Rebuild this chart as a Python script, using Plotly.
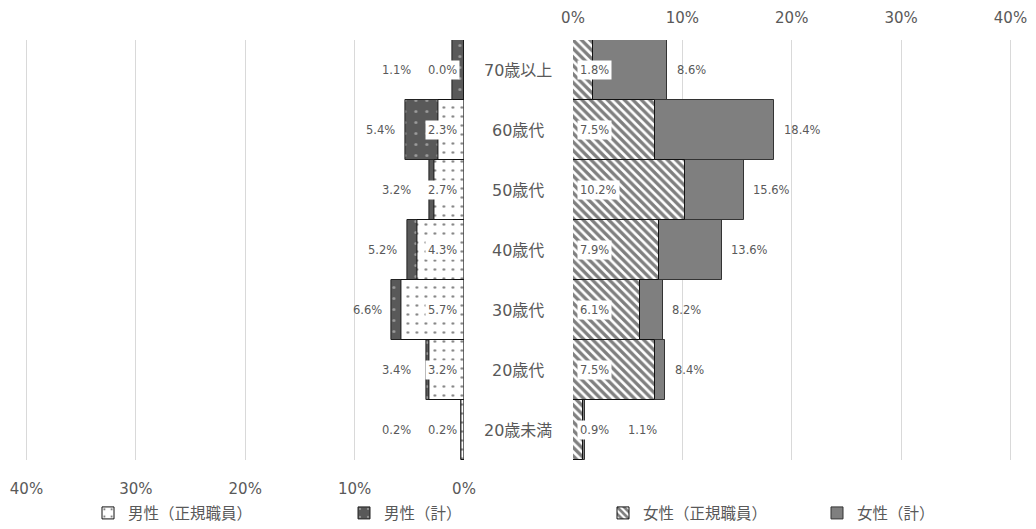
import plotly.graph_objects as go

# Age groups, bottom to top
ages = ["20歳未満", "20歳代", "30歳代", "40歳代", "50歳代", "60歳代", "70歳以上"]

# Shares (%) by sex and employment type
male_regular = [0.2, 3.2, 5.7, 4.3, 2.7, 2.3, 0.0]
male_total = [0.2, 3.4, 6.6, 5.2, 3.2, 5.4, 1.1]
female_regular = [0.9, 7.5, 6.1, 7.9, 10.2, 7.5, 1.8]
female_total = [1.1, 8.4, 8.2, 13.6, 15.6, 18.4, 8.6]

axis_ticks = [0, 10, 20, 30, 40]
tick_text = [f"{t}%" for t in axis_ticks]

W, H = 1036, 529
TEXT = "#595959"
FONT = "DejaVu Sans, Noto Sans CJK JP, sans-serif"
CJK_FONT = "Noto Sans CJK JP, DejaVu Sans, sans-serif"

# Panel geometry (pixels): 0% .. 40% for each side, with a tiny overshoot so
# the outer 40% gridline is still drawn
LEFT_ZERO, RIGHT_ZERO, SPAN = 464, 573, 437.5
XMAX = 40.1
ext = SPAN * XMAX / 40

fig = go.Figure()

# Men: total behind, regular staff on top (left panel)
fig.add_trace(go.Bar(
    y=ages, x=male_total, orientation="h", name="男性（計）",
    xaxis="x", yaxis="y", legend="legend2",
    marker=dict(color="#595959", line=dict(color="#222222", width=1),
                pattern=dict(shape=".", fgcolor="#e0e0e0", bgcolor="#595959",
                             size=11, solidity=0.06)),
    hoverinfo="skip",
))
fig.add_trace(go.Bar(
    y=ages, x=male_regular, orientation="h", name="男性（正規職員）",
    xaxis="x", yaxis="y", legend="legend",
    marker=dict(color="white", line=dict(color="#111111", width=1),
                pattern=dict(shape=".", fgcolor="#000000", bgcolor="white",
                             size=9, solidity=0.07)),
    hoverinfo="skip",
))

# Women: total behind, regular staff on top (right panel)
fig.add_trace(go.Bar(
    y=ages, x=female_total, orientation="h", name="女性（計）",
    xaxis="x2", yaxis="y", legend="legend4",
    marker=dict(color="#7f7f7f", line=dict(color="#333333", width=1)),
    hoverinfo="skip",
))
fig.add_trace(go.Bar(
    y=ages, x=female_regular, orientation="h", name="女性（正規職員）",
    xaxis="x2", yaxis="y", legend="legend3",
    marker=dict(color="white", line=dict(color="#111111", width=1),
                pattern=dict(shape="\\", fgcolor="#000000", bgcolor="white",
                             size=6, solidity=0.55)),
    hoverinfo="skip",
))

annotations = []
label_font = dict(family=FONT, size=11.5, color=TEXT)
for age, mr, mt, fr, ft in zip(ages, male_regular, male_total, female_regular, female_total):
    # regular-staff labels sit at the bar base on a white box
    annotations.append(dict(
        xref="x", yref="y", x=0.4, y=age, text=f"{mr:.1f}%", showarrow=False,
        xanchor="right", yanchor="middle", bgcolor="white", borderpad=2, font=label_font))
    annotations.append(dict(
        xref="x2", yref="y", x=0.4, y=age, text=f"{fr:.1f}%", showarrow=False,
        xanchor="left", yanchor="middle", bgcolor="white", borderpad=2, font=label_font))
    # totals sit just beyond the bar end, kept clear of the base labels
    annotations.append(dict(
        xref="x", yref="y", x=max(mt + 0.7, 4.7), y=age, text=f"{mt:.1f}%", showarrow=False,
        xanchor="right", yanchor="middle", font=label_font))
    annotations.append(dict(
        xref="x2", yref="y", x=max(ft + 0.7, 4.8), y=age, text=f"{ft:.1f}%", showarrow=False,
        xanchor="left", yanchor="middle", font=label_font))
    # age group label in the centre gutter
    annotations.append(dict(
        xref="paper", yref="y", x=518 / W, y=age, text=age, showarrow=False,
        xanchor="center", yanchor="middle", font=dict(family=FONT, size=16, color=TEXT)))

axis_common = dict(
    tickmode="array", tickvals=axis_ticks, ticktext=tick_text,
    showgrid=True, gridcolor="#d9d9d9", gridwidth=1, zeroline=False,
    showline=False, ticks="", tickfont=dict(family=FONT, size=15, color=TEXT),
    fixedrange=True, automargin=False,
)

legend_common = dict(
    orientation="h", yanchor="middle", xanchor="left", y=-0.127,
    font=dict(family=CJK_FONT, size=15.5, color=TEXT), bgcolor="rgba(0,0,0,0)",
    itemwidth=30,
)

fig.update_layout(
    width=W, height=H,
    margin=dict(l=0, r=0, t=40, b=69, autoexpand=False),
    paper_bgcolor="white", plot_bgcolor="white",
    barmode="overlay", bargap=0,
    xaxis=dict(domain=[(LEFT_ZERO - ext) / W, LEFT_ZERO / W], range=[XMAX, 0],
               side="bottom", anchor="y", ticklabelstandoff=18, **axis_common),
    xaxis2=dict(domain=[RIGHT_ZERO / W, (RIGHT_ZERO + ext) / W], range=[0, XMAX],
                side="top", anchor="y", ticklabelstandoff=13, **axis_common),
    yaxis=dict(categoryorder="array", categoryarray=ages, range=[-0.5, 6.5],
               visible=False, fixedrange=True, automargin=False),
    annotations=annotations,
    legend=dict(x=88 / W, **legend_common),
    legend2=dict(x=344 / W, **legend_common),
    legend3=dict(x=603 / W, **legend_common),
    legend4=dict(x=817 / W, **legend_common),
    showlegend=True,
)

fig.write_html("out.html")
